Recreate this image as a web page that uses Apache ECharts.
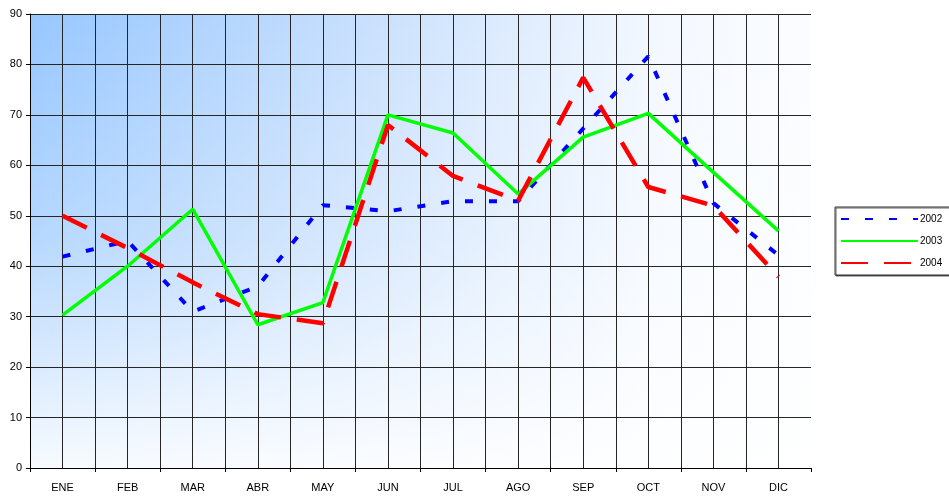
<!DOCTYPE html>
<html>
<head>
<meta charset="utf-8">
<script src="https://cdn.jsdelivr.net/npm/echarts@6/dist/echarts.min.js"></script>
<style>
html,body{margin:0;padding:0;background:#fff;}
#chart{width:949px;height:497px;}
</style>
</head>
<body>
<div id="chart"></div>
<script>
var months = ['ENE','FEB','MAR','ABR','MAY','JUN','JUL','AGO','SEP','OCT','NOV','DIC'];
var s2002 = [41.9, 45.0, 31.0, 36.0, 52.1, 50.9, 52.9, 52.9, 67.3, 81.6, 52.5, 42.2];
var s2003 = [30.3, 40.0, 51.3, 28.4, 32.8, 70.0, 66.4, 54.3, 65.6, 70.3, 58.6, 47.0];
var s2004 = [50.0, 43.6, 36.8, 30.5, 28.7, 68.0, 57.9, 53.0, 77.4, 55.7, 52.0, 37.9];
var yMin = 0, yMax = 90, yStep = 10;

var G = {left: 30, top: 14, width: 781, height: 454};
var W = 949, H = 497;
var catW = G.width / months.length;
var innerW = catW * (months.length - 0.5);

var font = "'Liberation Sans', Arial, sans-serif";
var gridColor = '#262626';

var chart = echarts.init(document.getElementById('chart'), null, {renderer: 'canvas'});
chart.setOption({
  animation: false,
  backgroundColor: '#ffffff',
  textStyle: {fontFamily: font},
  graphic: [
    {type: 'rect', z: -10, silent: true,
     shape: {x: G.left, y: G.top, width: G.width, height: G.height},
     style: {fill: {type: 'linear', x: 0, y: 0, x2: 1, y2: 0, colorStops: [
       {offset: 0, color: '#97c7ff'}, {offset: 0.45, color: '#cbe1fd'},
       {offset: 0.8, color: '#f3f8ff'}, {offset: 1, color: '#fbfdff'}]}}},
    {type: 'rect', z: -9, silent: true,
     shape: {x: G.left, y: G.top, width: G.width, height: G.height},
     style: {fill: {type: 'linear', x: 0, y: 0, x2: 0, y2: 1, colorStops: [
       {offset: 0, color: 'rgba(255,255,255,0)'}, {offset: 0.5, color: 'rgba(255,255,255,0.3)'},
       {offset: 1, color: 'rgba(255,255,255,0.92)'}]}}}
  ],
  grid: [
    {left: G.left, top: G.top, right: W - G.left - G.width, bottom: H - G.top - G.height, show: false},
    {left: G.left, top: G.top, right: W - G.left - innerW, bottom: H - G.top - G.height, show: false}
  ],
  legend: {
    orient: 'vertical',
    left: 835, top: 207,
    padding: [7, 8, 7, 5],
    itemWidth: 77, itemHeight: 10, itemGap: 12,
    backgroundColor: '#ffffff',
    borderColor: '#333333', borderWidth: 1,
    shadowColor: 'rgba(0,0,0,0.6)', shadowOffsetX: 1, shadowOffsetY: 1, shadowBlur: 0,
    textStyle: {fontSize: 10, color: '#000', fontFamily: font, padding: [0,0,0,-3]},
    itemStyle: {color: 'rgba(0,0,0,0)', borderWidth: 0},
    data: ['2002', '2003', '2004']
  },
  xAxis: [
    {type: 'category', gridIndex: 0, data: months, boundaryGap: true,
     axisLine: {lineStyle: {color: '#000', width: 1}},
     axisTick: {show: true, length: 4, inside: false, lineStyle: {color: '#000'}},
     axisLabel: {color: '#000', fontSize: 11, margin: 14, fontFamily: font},
     splitLine: {show: false}},
    {type: 'value', gridIndex: 1, min: 0, max: months.length - 0.5, interval: 0.5,
     axisLine: {show: false}, axisTick: {show: false}, axisLabel: {show: false},
     splitLine: {show: true, lineStyle: {color: gridColor, width: 1}}}
  ],
  yAxis: [
    {type: 'value', gridIndex: 0, min: yMin, max: yMax, interval: yStep,
     axisLine: {show: true, lineStyle: {color: '#000', width: 1}},
     axisTick: {show: true, length: 4, lineStyle: {color: '#000'}},
     axisLabel: {color: '#000', fontSize: 11, margin: 8, fontFamily: font},
     splitLine: {show: true, lineStyle: {color: gridColor, width: 1}}},
    {type: 'value', gridIndex: 1, min: yMin, max: yMax, show: false, splitLine: {show: false}}
  ],
  series: [
    {name: '2002', type: 'line', xAxisIndex: 0, yAxisIndex: 0, data: s2002,
     symbol: 'none', smooth: false, z: 3,
     lineStyle: {color: '#0000ff', width: 4, type: [8, 16]}, itemStyle: {color: '#0000ff'}},
    {name: '2003', type: 'line', xAxisIndex: 0, yAxisIndex: 0, data: s2003,
     symbol: 'none', smooth: false, z: 4,
     lineStyle: {color: '#00ff00', width: 3.5, type: 'solid'}, itemStyle: {color: '#00ff00'}},
    {name: '2004', type: 'line', xAxisIndex: 0, yAxisIndex: 0, data: s2004,
     symbol: 'none', smooth: false, z: 5,
     lineStyle: {color: '#ff0000', width: 4.5, type: [27, 16]}, itemStyle: {color: '#ff0000'}}
  ]
});
</script>
</body>
</html>
